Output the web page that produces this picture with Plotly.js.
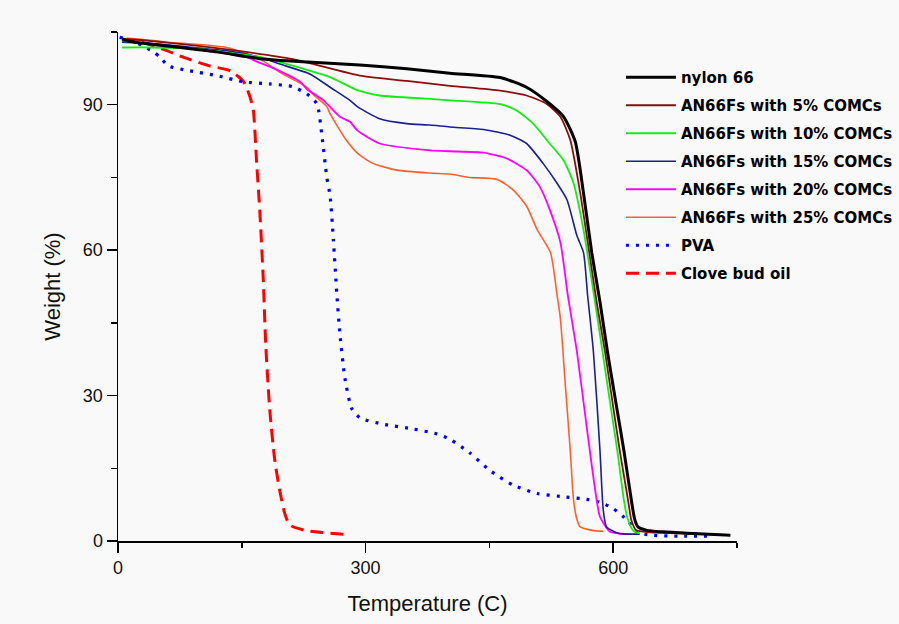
<!DOCTYPE html>
<html>
<head>
<meta charset="utf-8">
<script src="https://cdn.plot.ly/plotly-3.0.1.min.js"></script>
<style>html,body{margin:0;padding:0;background:#f9f9f9;}#chart{width:899px;height:624px;}</style>
</head>
<body>
<div id="chart"></div>
<script>
// Series names
const seriesNames = ["nylon 66", "AN66Fs with 5% COMCs", "AN66Fs with 10% COMCs", "AN66Fs with 15% COMCs",
  "AN66Fs with 20% COMCs", "AN66Fs with 25% COMCs", "PVA", "Clove bud oil"];

// nylon 66
const nylonX = [5, 14, 60, 120, 172, 230, 293, 350, 402, 463, 495, 523, 540, 554, 564, 574, 584, 593, 603, 613, 622, 626, 630, 641, 660, 690, 742];
const nylonY = [103.6, 103.1, 102.1, 100.9, 99.5, 98.8, 98.2, 97.4, 96.5, 95.6, 93.6, 90.2, 87.5, 82.4, 71.8, 59.5, 49.3, 39.1, 28.8, 18.6, 8.4, 4.5, 2.9, 2.2, 1.9, 1.6, 1.2];

// 5% COMCs
const c5X = [5, 11, 60, 132, 212, 293, 350, 402, 463, 495, 519, 536, 548, 560, 571, 580, 590, 599, 608, 618, 622, 628, 645, 700, 730];
const c5Y = [103.3, 103.5, 102.8, 101.4, 99.4, 96.0, 94.9, 93.9, 92.9, 91.9, 90.2, 87.5, 82.7, 71.8, 59.5, 49.3, 39.1, 28.8, 18.6, 8.4, 4.3, 2.2, 1.8, 1.5, 1.3];

// 10% COMCs
const c10X = [5, 40, 91, 140, 172, 233, 257, 290, 317, 378, 402, 463, 483, 503, 523, 540, 552, 564, 578, 587, 596, 605, 613, 617, 624, 632];
const c10Y = [101.8, 101.8, 101.6, 100.6, 99.8, 97, 95.7, 93.0, 91.9, 91.2, 90.9, 90.1, 88.8, 86.1, 82, 78.5, 73.8, 64.2, 49.3, 39.1, 28.8, 18.6, 8.4, 4.9, 2.2, 1.6];

// 15% COMCs
const c15X = [5, 40, 132, 172, 196, 233, 257, 281, 290, 317, 350, 378, 402, 443, 475, 495, 515, 532, 544, 556, 564, 569, 576, 584, 588, 592, 606, 632];
const c15Y = [102.9, 102.6, 101.1, 99.8, 98.4, 96.3, 93.6, 90.9, 89.6, 87.1, 86.1, 85.8, 85.4, 84.9, 83.7, 82, 77.9, 73.8, 70.4, 63, 59.5, 50.7, 39.1, 18.6, 6.3, 2.9, 1.6, 1.4];

// 20% COMCs
const c20X = [5, 40, 100, 156, 168, 190, 221, 229, 249, 269, 281, 290, 317, 378, 402, 443, 471, 495, 511, 523, 536, 545, 556, 569, 577, 584, 596, 610, 632];
const c20Y = [103.0, 102.6, 101.3, 99.8, 98.9, 97.4, 94.7, 93.2, 90.9, 87.5, 86.5, 84.7, 82, 80.6, 80.4, 80.1, 78.9, 76.5, 73.1, 68.4, 61.6, 50.7, 39.1, 22.1, 11.9, 5, 1.9, 1.5, 1.4];

// 25% COMCs
const c25X = [5, 11, 60, 132, 172, 200, 229, 236, 253, 257, 277, 290, 309, 338, 378, 402, 426, 459, 479, 495, 508, 524, 532, 536, 542, 548, 552, 556, 560, 575, 588];
const c25Y = [103.2, 103.7, 102.9, 101.8, 99.4, 96.3, 93.6, 92.2, 89.6, 88.1, 82.6, 80, 77.9, 76.5, 75.9, 75.7, 75, 74.6, 72.4, 69.1, 64.2, 59.5, 50.7, 45.9, 32.2, 18.6, 8.4, 4.5, 2.9, 2.2, 2.0];

// PVA
const pvaX = [2, 18, 30, 42, 51, 61, 87, 120, 152, 184, 212, 229, 241, 247, 253, 257, 261, 265, 269, 275, 283, 293, 321, 358, 386, 402, 426, 451, 479, 508, 536, 568, 584, 600, 617, 629, 645, 680, 721];
const pvaY = [103.9, 103.2, 102.1, 101, 99.8, 98, 97, 96, 94.7, 94.3, 93.7, 92.2, 90.2, 83.7, 75, 71.2, 62, 51.3, 42.5, 33.5, 27.4, 25.4, 24.1, 23.1, 22.1, 21, 18.2, 14.5, 11.5, 9.8, 9.2, 8.6, 8, 6.7, 4.3, 1.8, 1.2, 1.0, 1.0];

// Clove bud oil
const cloveX = [5, 30, 55, 79, 111, 136, 152, 160, 164, 168, 172, 176, 179, 184, 190, 196, 202, 208, 220, 233, 273];
const cloveY = [103.5, 102.8, 101.4, 99.8, 98, 97, 94.8, 91.6, 88.8, 78, 67.5, 54, 40.5, 26.8, 16.6, 10.4, 5.7, 3.3, 2.5, 2, 1.4];

// Axis ticks
const xTickVals = [0, 300, 600];
const yTickVals = [0, 30, 60, 90];

function tr(x, y, name, rank, line) {
  line.shape = 'spline';
  line.smoothing = 0.6;
  return {type: 'scatter', mode: 'lines', x: x, y: y, name: name, legendrank: rank,
          legendgroup: 'g' + rank, line: line};
}

const data = [
  tr(cloveX, cloveY, seriesNames[7], 8, {color: '#ff0000', width: 3, dash: '13px,7px'}),
  tr(pvaX, pvaY, seriesNames[6], 7, {color: '#0000ff', width: 3.2, dash: '3px,7px'}),
  tr(c25X, c25Y, seriesNames[5], 6, {color: '#ff6030', width: 1.6}),
  tr(c20X, c20Y, seriesNames[4], 5, {color: '#ff00ff', width: 1.8}),
  tr(c15X, c15Y, seriesNames[3], 4, {color: '#1a2090', width: 1.6}),
  tr(c10X, c10Y, seriesNames[2], 3, {color: '#11ee11', width: 1.8}),
  tr(c5X, c5Y, seriesNames[1], 2, {color: '#8b0d0d', width: 1.8}),
  tr(nylonX, nylonY, seriesNames[0], 1, {color: '#000000', width: 3})
];

const layout = {
  width: 899, height: 624,
  paper_bgcolor: '#f9f9f9', plot_bgcolor: '#f9f9f9',
  margin: {l: 118, r: 162, t: 32, b: 83, autoexpand: false},
  font: {family: 'Liberation Sans, Arial, sans-serif', color: '#111'},
  showlegend: true,
  legend: {
    x: 0.8125, y: 0.943, xanchor: 'left', yanchor: 'top',
    bgcolor: 'rgba(0,0,0,0)', itemwidth: 50, tracegroupgap: 5.5,
    font: {family: 'DejaVu Sans', size: 15, weight: 'bold', color: '#000'}
  },
  xaxis: {
    range: [0, 750], tickvals: xTickVals, ticks: 'outside', ticklen: 10, tickwidth: 1.5,
    tickcolor: '#000', showline: true, linecolor: '#000', linewidth: 1.5,
    showgrid: false, zeroline: false,
    tickfont: {size: 18, color: '#111'},
    minor: {tickvals: [150, 450, 750], ticks: 'outside', ticklen: 5, tickwidth: 1.5, tickcolor: '#000', showgrid: false},
    title: {text: 'Temperature (C)', font: {size: 22, color: '#111'}, standoff: 18}
  },
  yaxis: {
    range: [0, 105], tickvals: yTickVals, ticks: 'outside', ticklen: 10, tickwidth: 1.5,
    tickcolor: '#000', showline: true, linecolor: '#000', linewidth: 1.5,
    showgrid: false, zeroline: false,
    tickfont: {size: 18, color: '#111'},
    minor: {tickvals: [15, 45, 75, 105], ticks: 'outside', ticklen: 6, tickwidth: 1.5, tickcolor: '#000', showgrid: false},
    title: {text: 'Weight (%)', font: {size: 22, color: '#111'}, standoff: 16}
  }
};

Plotly.newPlot('chart', data, layout, {displayModeBar: false, staticPlot: true});
</script>
</body>
</html>
